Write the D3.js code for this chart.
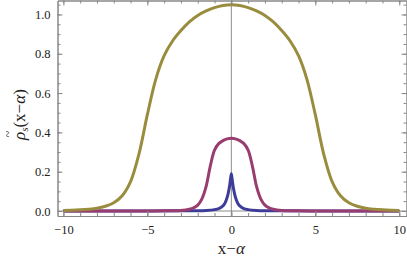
<!DOCTYPE html>
<html>
<head>
<meta charset="utf-8">
<script src="https://cdn.jsdelivr.net/npm/d3@7"></script>
<style>
  body { margin: 0; background: #fff; }
  svg { display: block; }
</style>
</head>
<body>
<div id="chart"></div>
<script>
// blue curve (narrow peak)
var blueX = [-10, -5, -3, -2, -1.5, -1, -0.75, -0.5, -0.4, -0.3, -0.2, -0.15, -0.1, -0.05, 0,
             0.05, 0.1, 0.15, 0.2, 0.3, 0.4, 0.5, 0.75, 1, 1.5, 2, 3, 5, 10];
var blueY = [0.0001, 0.0003, 0.0007, 0.0015, 0.003, 0.007, 0.012, 0.026, 0.037, 0.056, 0.085, 0.105, 0.13, 0.16, 0.19,
             0.16, 0.13, 0.105, 0.085, 0.056, 0.037, 0.026, 0.012, 0.007, 0.003, 0.0015, 0.0007, 0.0003, 0.0001];

// purple curve (medium peak)
var purpleX = [-10, -6, -5, -4, -3.5, -3, -2.5, -2.25, -2, -1.75, -1.5, -1.25, -1, -0.75, -0.5, -0.25, 0,
               0.25, 0.5, 0.75, 1, 1.25, 1.5, 1.75, 2, 2.25, 2.5, 3, 3.5, 4, 5, 6, 10];
var purpleY = [0, 0, 0.0002, 0.0008, 0.0015, 0.003, 0.009, 0.016, 0.03, 0.062, 0.125, 0.23, 0.31, 0.343, 0.358, 0.367, 0.37,
               0.367, 0.358, 0.343, 0.31, 0.23, 0.125, 0.062, 0.03, 0.016, 0.009, 0.003, 0.0015, 0.0008, 0.0002, 0, 0];

// gold curve (wide plateau)
var goldX = [-10, -9.5, -9, -8.5, -8, -7.5, -7, -6.5, -6, -5.5, -5, -4.5, -4, -3.5, -3, -2.5, -2, -1.5, -1, -0.5, 0,
             0.5, 1, 1.5, 2, 2.5, 3, 3.5, 4, 4.5, 5, 5.5, 6, 6.5, 7, 7.5, 8, 8.5, 9, 9.5, 10];
var goldY = [0.003, 0.004, 0.006, 0.009, 0.014, 0.024, 0.042, 0.078, 0.15, 0.29, 0.49, 0.67, 0.79, 0.865, 0.918, 0.962, 0.995, 1.018, 1.035, 1.046, 1.05,
             1.046, 1.035, 1.018, 0.995, 0.962, 0.918, 0.865, 0.79, 0.67, 0.49, 0.29, 0.15, 0.078, 0.042, 0.024, 0.014, 0.009, 0.006, 0.004, 0.003];

var xMajor = [-10, -5, 0, 5, 10];
var xMinor = [-10, -9, -8, -7, -6, -5, -4, -3, -2, -1, 0, 1, 2, 3, 4, 5, 6, 7, 8, 9, 10];
var yMajor = [0, 0.2, 0.4, 0.6, 0.8, 1.0];
var yMinor = [0, 0.05, 0.1, 0.15, 0.2, 0.25, 0.3, 0.35, 0.4, 0.45, 0.5, 0.55, 0.6, 0.65, 0.7, 0.75, 0.8, 0.85, 0.9, 0.95, 1.0, 1.05];

var series = [
    {x: blueX, y: blueY, color: "#3d3d99"},
    {x: purpleX, y: purpleY, color: "#993d71"},
    {x: goldX, y: goldY, color: "#998d3d"}
];

var width = 407, height = 259;
var frame = {left: 57.5, right: 406.5, top: 0.5, bottom: 216};
var serif = "Liberation Serif";

var svg = d3.select("#chart")
    .append("svg")
    .attr("width", width)
    .attr("height", height);

var x = d3.scaleLinear()
    .domain([-10.35, 10.43])
    .range([frame.left, frame.right]);

var y = d3.scaleLinear()
    .domain([-0.0254, 1.071])
    .range([frame.bottom, frame.top]);

// x = 0 and y = 0 axes
svg.append("line")
    .attr("x1", x(0)).attr("x2", x(0))
    .attr("y1", frame.top).attr("y2", frame.bottom)
    .attr("stroke", "#8c8c8c").attr("stroke-width", 1);

svg.append("line")
    .attr("x1", frame.left).attr("x2", frame.right)
    .attr("y1", y(0)).attr("y2", y(0))
    .attr("stroke", "#8c8c8c").attr("stroke-width", 1);

// curves
var line = d3.line()
    .x(function(d){ return x(d[0]); })
    .y(function(d){ return y(d[1]); })
    .curve(d3.curveCatmullRom.alpha(0.5));

svg.append("clipPath").attr("id", "clip")
    .append("rect")
    .attr("x", frame.left).attr("y", frame.top)
    .attr("width", frame.right - frame.left)
    .attr("height", frame.bottom - frame.top);

svg.append("g")
    .attr("clip-path", "url(#clip)")
    .selectAll("path")
    .data(series).enter()
    .append("path")
    .attr("d", function(s){ return line(s.x.map(function(v, i){ return [v, s.y[i]]; })); })
    .attr("fill", "none")
    .attr("stroke", function(s){ return s.color; })
    .attr("stroke-width", 3)
    .attr("stroke-linejoin", "round");

// frame with inward ticks
function styleAxis(g) {
    g.attr("font-family", serif).attr("font-size", 12.5);
    g.select(".domain").attr("stroke", "#888");
    g.selectAll(".tick line").attr("stroke", "#888");
    g.selectAll(".tick text").attr("fill", "#222");
}

function minorAxis(axisFn, scale, vals, pos) {
    svg.append("g")
        .attr("transform", pos)
        .call(axisFn(scale).tickValues(vals).tickSizeInner(-3).tickSizeOuter(0).tickFormat(""))
        .call(styleAxis);
}

minorAxis(d3.axisBottom, x, xMinor, "translate(0," + frame.bottom + ")");
minorAxis(d3.axisTop, x, xMinor, "translate(0," + frame.top + ")");
minorAxis(d3.axisLeft, y, yMinor, "translate(" + frame.left + ",0)");
minorAxis(d3.axisRight, y, yMinor, "translate(" + frame.right + ",0)");

svg.append("g")
    .attr("transform", "translate(0," + frame.bottom + ")")
    .call(d3.axisBottom(x).tickValues(xMajor).tickSizeInner(-5).tickSizeOuter(0).tickPadding(9)
        .tickFormat(function(d){ return d < 0 ? "\u2212" + Math.abs(d) : d; }))
    .call(styleAxis);

svg.append("g")
    .attr("transform", "translate(0," + frame.top + ")")
    .call(d3.axisTop(x).tickValues(xMajor).tickSizeInner(-5).tickSizeOuter(0).tickFormat(""))
    .call(styleAxis);

svg.append("g")
    .attr("transform", "translate(" + frame.left + ",0)")
    .call(d3.axisLeft(y).tickValues(yMajor).tickSizeInner(-5).tickSizeOuter(0).tickPadding(7)
        .tickFormat(d3.format(".1f")))
    .call(styleAxis);

svg.append("g")
    .attr("transform", "translate(" + frame.right + ",0)")
    .call(d3.axisRight(y).tickValues(yMajor).tickSizeInner(-5).tickSizeOuter(0).tickFormat(""))
    .call(styleAxis);

// x label
var xl = svg.append("text")
    .attr("x", x(0))
    .attr("y", 254)
    .attr("text-anchor", "middle")
    .attr("font-family", serif)
    .attr("font-size", 17)
    .attr("fill", "#222");
xl.append("tspan").text("x\u2212");
xl.append("tspan").attr("font-style", "italic").text("\u03b1");

// y label (rotated)
var yl = svg.append("g")
    .attr("transform", "rotate(-90)")
    .attr("font-family", serif)
    .attr("fill", "#222");

var yt = yl.append("text")
    .attr("x", -140)
    .attr("y", 25)
    .attr("font-size", 17);
yt.append("tspan").attr("font-style", "italic").text("\u03c1");
yt.append("tspan").attr("dy", 3).attr("font-size", 11).attr("font-style", "italic").text("s");
yt.append("tspan").attr("dy", -3).text("(x\u2212");
yt.append("tspan").attr("font-style", "italic").text("\u03b1");
yt.append("tspan").text(")");

yl.append("text")
    .attr("x", -134)
    .attr("y", 12)
    .attr("text-anchor", "middle")
    .attr("font-size", 12)
    .text("~");
</script>
</body>
</html>
